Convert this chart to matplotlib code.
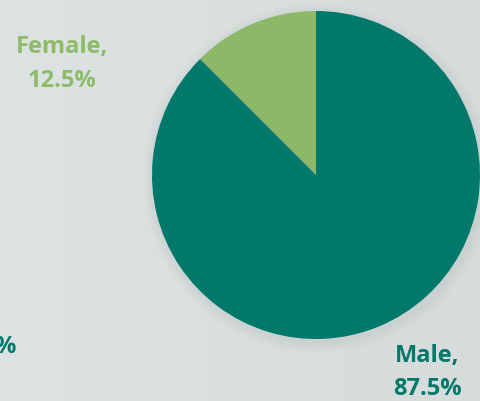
import matplotlib
matplotlib.use("Agg")
import matplotlib.pyplot as plt
import numpy as np
from matplotlib.patches import Circle
from matplotlib.colors import LinearSegmentedColormap

categories = ["Female", "Male"]
values = [12.5, 87.5]
colors = ["#8DB868", "#00786A"]
label_colors = ["#8DBB68", "#00786A"]

W, H = 480, 401
fig = plt.figure(figsize=(W/100, H/100), dpi=100)

# background gradient
bg = fig.add_axes([0, 0, 1, 1])
grad = np.linspace(0, 1, 256)[None, :]
cmap = LinearSegmentedColormap.from_list("bg", ["#DDE3E3", "#D6DCDC"])
bg.imshow(grad, aspect="auto", cmap=cmap, extent=[0, 1, 0, 1])
bg.axis("off")

cx, cy, r = 316, 175, 164
ax = fig.add_axes([(cx - r)/W, (H - cy - r)/H, 2*r/W, 2*r/H])
# soft shadow
for i, a in enumerate(np.linspace(0.05, 0.01, 6)):
    ax.add_patch(Circle((0.01, -0.02), 1 + 0.012*(i+1), color="#9aa3a3", alpha=a,
                        lw=0, zorder=0, clip_on=False))
ax.pie(values, colors=colors, startangle=90, counterclock=True, radius=1,
       wedgeprops=dict(linewidth=0), frame=True)
ax.set_xlim(-1, 1)
ax.set_ylim(-1, 1)
ax.axis("off")

fs = 17
kw = dict(fontsize=fs, fontweight="bold", family="Open Sans", va="baseline")
fig.text(62/W, 1 - 53/H, f"{categories[0]},", color=label_colors[0], ha="center", **kw)
fig.text(62/W, 1 - 87/H, f"{values[0]}%", color=label_colors[0], ha="center", **kw)
fig.text(427/W, 1 - 362/H, f"{categories[1]},", color=label_colors[1], ha="center", **kw)
fig.text(427/W, 1 - 395/H, f"{values[1]}%", color=label_colors[1], ha="center", **kw)
# cut-off label at left edge (partially visible in the reference)
fig.text(16/W, 1 - 353/H, "%", color=label_colors[1], ha="right", **kw)

fig.savefig("out.png", dpi=100)
